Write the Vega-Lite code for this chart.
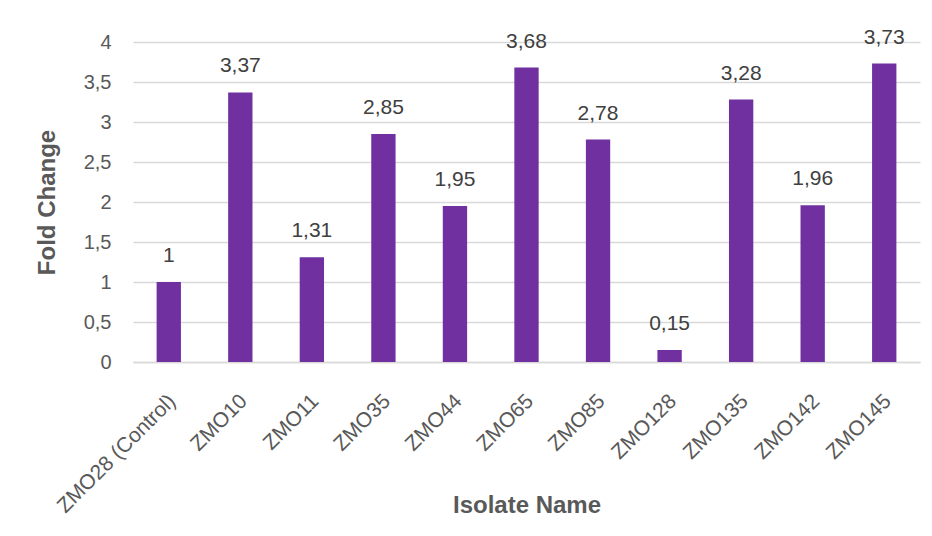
{
  "$schema": "https://vega.github.io/schema/vega-lite/v6.json",
  "autosize": "none",
  "width": 787,
  "height": 320,
  "padding": {"left": 133, "top": 42, "right": 12, "bottom": 174},
  "background": "white",
  "config": {
    "locale": {"number": {"decimal": ",", "thousands": ".", "grouping": [3], "currency": ["", " €"]}},
    "view": {"stroke": null},
    "font": "Liberation Sans"
  },
  "data": {
    "values": [
      {"isolate": "ZMO28 (Control)", "fold": 1},
      {"isolate": "ZMO10", "fold": 3.37},
      {"isolate": "ZMO11", "fold": 1.31},
      {"isolate": "ZMO35", "fold": 2.85},
      {"isolate": "ZMO44", "fold": 1.95},
      {"isolate": "ZMO65", "fold": 3.68},
      {"isolate": "ZMO85", "fold": 2.78},
      {"isolate": "ZMO128", "fold": 0.15},
      {"isolate": "ZMO135", "fold": 3.28},
      {"isolate": "ZMO142", "fold": 1.96},
      {"isolate": "ZMO145", "fold": 3.73}
    ]
  },
  "encoding": {
    "x": {
      "field": "isolate",
      "type": "nominal",
      "sort": null,
      "scale": {"paddingInner": 0.66, "paddingOuter": 0.33},
      "axis": {
        "title": "Isolate Name",
        "titleFont": "Liberation Sans",
        "titleFontSize": 24,
        "titleFontWeight": "bold",
        "titleColor": "#595959",
        "titleY": 150,
        "titleBaseline": "alphabetic",
        "labelAngle": -45,
        "labelAlign": "right",
        "labelBaseline": "top",
        "labelFontSize": 21,
        "labelColor": "#595959",
        "labelPadding": 28,
        "labelOffset": -4,
        "ticks": false,
        "domain": true,
        "domainColor": "#d9d9d9",
        "domainWidth": 1.5
      }
    },
    "y": {
      "field": "fold",
      "type": "quantitative",
      "scale": {"domain": [0, 4], "nice": false},
      "axis": {
        "title": "Fold Change",
        "titleFont": "Liberation Sans",
        "titleFontSize": 24,
        "titleFontWeight": "bold",
        "titleColor": "#595959",
        "titlePadding": 24,
        "values": [0, 0.5, 1, 1.5, 2, 2.5, 3, 3.5, 4],
        "format": ".1~f",
        "labelFontSize": 20,
        "labelColor": "#595959",
        "labelPadding": 22,
        "ticks": false,
        "domain": false,
        "grid": true,
        "gridColor": "#d9d9d9",
        "gridWidth": 1.5
      }
    }
  },
  "layer": [
    {"mark": {"type": "bar", "color": "#7030A0"}},
    {
      "mark": {"type": "text", "dy": -20, "fontSize": 21, "color": "#404040", "baseline": "alphabetic"},
      "encoding": {"text": {"field": "fold", "type": "quantitative", "format": "~g"}}
    }
  ]
}
